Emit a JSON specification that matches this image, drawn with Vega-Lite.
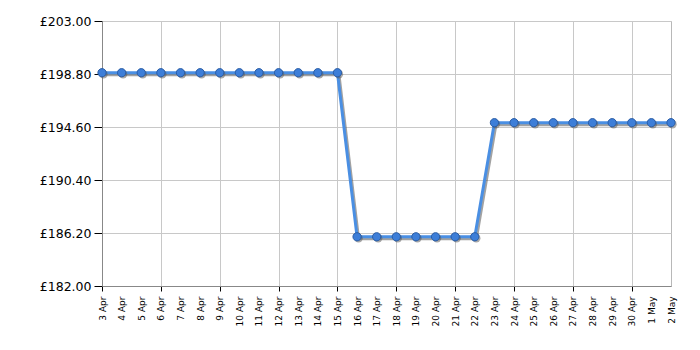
{
  "$schema": "https://vega.github.io/schema/vega-lite/v6.json",
  "width": 569,
  "height": 265,
  "autosize": {"type": "none"},
  "padding": {"left": 102, "top": 21, "right": 29, "bottom": 64},
  "background": "white",
  "config": {
    "view": {"stroke": "#b8b8b8", "strokeWidth": 1},
    "font": "Verdana, DejaVu Sans"
  },
  "data": {
    "values": [
      {"date": "2024-04-03", "price": 198.9},
      {"date": "2024-04-04", "price": 198.9},
      {"date": "2024-04-05", "price": 198.9},
      {"date": "2024-04-06", "price": 198.9},
      {"date": "2024-04-07", "price": 198.9},
      {"date": "2024-04-08", "price": 198.9},
      {"date": "2024-04-09", "price": 198.9},
      {"date": "2024-04-10", "price": 198.9},
      {"date": "2024-04-11", "price": 198.9},
      {"date": "2024-04-12", "price": 198.9},
      {"date": "2024-04-13", "price": 198.9},
      {"date": "2024-04-14", "price": 198.9},
      {"date": "2024-04-15", "price": 198.9},
      {"date": "2024-04-16", "price": 185.9},
      {"date": "2024-04-17", "price": 185.9},
      {"date": "2024-04-18", "price": 185.9},
      {"date": "2024-04-19", "price": 185.9},
      {"date": "2024-04-20", "price": 185.9},
      {"date": "2024-04-21", "price": 185.9},
      {"date": "2024-04-22", "price": 185.9},
      {"date": "2024-04-23", "price": 194.94},
      {"date": "2024-04-24", "price": 194.94},
      {"date": "2024-04-25", "price": 194.94},
      {"date": "2024-04-26", "price": 194.94},
      {"date": "2024-04-27", "price": 194.94},
      {"date": "2024-04-28", "price": 194.94},
      {"date": "2024-04-29", "price": 194.94},
      {"date": "2024-04-30", "price": 194.94},
      {"date": "2024-05-01", "price": 194.94},
      {"date": "2024-05-02", "price": 194.94}
    ]
  },
  "encoding": {
    "x": {
      "field": "date",
      "type": "temporal",
      "scale": {"type": "utc", "domain": [{"year": 2024, "month": 4, "date": 3, "utc": true}, {"year": 2024, "month": 5, "date": 2, "utc": true}], "nice": false},
      "axis": {
        "title": null,
        "format": "%-d %b",
        "labelAngle": 270,
        "labelAlign": "right",
        "labelBaseline": "middle",
        "labelFontSize": 9,
        "labelColor": "#000",
        "labelPadding": 5,
        "labelOverlap": false,
        "labelBound": false,
        "labelFlush": false,
        "values": [
          {"year": 2024, "month": 4, "date": 3, "utc": true},
          {"year": 2024, "month": 4, "date": 4, "utc": true},
          {"year": 2024, "month": 4, "date": 5, "utc": true},
          {"year": 2024, "month": 4, "date": 6, "utc": true},
          {"year": 2024, "month": 4, "date": 7, "utc": true},
          {"year": 2024, "month": 4, "date": 8, "utc": true},
          {"year": 2024, "month": 4, "date": 9, "utc": true},
          {"year": 2024, "month": 4, "date": 10, "utc": true},
          {"year": 2024, "month": 4, "date": 11, "utc": true},
          {"year": 2024, "month": 4, "date": 12, "utc": true},
          {"year": 2024, "month": 4, "date": 13, "utc": true},
          {"year": 2024, "month": 4, "date": 14, "utc": true},
          {"year": 2024, "month": 4, "date": 15, "utc": true},
          {"year": 2024, "month": 4, "date": 16, "utc": true},
          {"year": 2024, "month": 4, "date": 17, "utc": true},
          {"year": 2024, "month": 4, "date": 18, "utc": true},
          {"year": 2024, "month": 4, "date": 19, "utc": true},
          {"year": 2024, "month": 4, "date": 20, "utc": true},
          {"year": 2024, "month": 4, "date": 21, "utc": true},
          {"year": 2024, "month": 4, "date": 22, "utc": true},
          {"year": 2024, "month": 4, "date": 23, "utc": true},
          {"year": 2024, "month": 4, "date": 24, "utc": true},
          {"year": 2024, "month": 4, "date": 25, "utc": true},
          {"year": 2024, "month": 4, "date": 26, "utc": true},
          {"year": 2024, "month": 4, "date": 27, "utc": true},
          {"year": 2024, "month": 4, "date": 28, "utc": true},
          {"year": 2024, "month": 4, "date": 29, "utc": true},
          {"year": 2024, "month": 4, "date": 30, "utc": true},
          {"year": 2024, "month": 5, "date": 1, "utc": true},
          {"year": 2024, "month": 5, "date": 2, "utc": true}
        ],
        "grid": true,
        "gridColor": "#c8c8c8",
        "gridOpacity": {"condition": {"test": "round((datum.value - utc(2024,3,3)) / 86400000) % 3 == 0", "value": 1}, "value": 0},
        "tickOpacity": {"condition": {"test": "round((datum.value - utc(2024,3,3)) / 86400000) % 3 == 0", "value": 1}, "value": 0},
        "tickColor": "#000",
        "tickSize": 5,
        "domainColor": "#888"
      }
    },
    "y": {
      "field": "price",
      "type": "quantitative",
      "scale": {"domain": [182, 203], "nice": false, "zero": false},
      "axis": {
        "title": null,
        "values": [182, 186.2, 190.4, 194.6, 198.8, 203],
        "labelExpr": "'£' + format(datum.value, '.2f')",
        "labelFontSize": 12.5,
        "labelColor": "#000",
        "labelPadding": 3,
        "tickColor": "#000",
        "tickSize": 8,
        "domainColor": "#888",
        "gridColor": "#c8c8c8"
      }
    }
  },
  "layer": [
    {"mark": {"type": "line", "color": "#555", "opacity": 0.55, "strokeWidth": 3, "xOffset": 1.5, "yOffset": 2}},
    {"mark": {"type": "line", "color": "#4a8fe3", "strokeWidth": 3}},
    {"mark": {"type": "point", "filled": true, "shape": "circle", "size": 70, "color": "#555", "opacity": 0.5, "xOffset": 1.5, "yOffset": 1.5}},
    {"mark": {"type": "point", "filled": true, "shape": "circle", "size": 68, "fill": "#3d7ed8", "stroke": "#2a5ca4", "strokeWidth": 1, "opacity": 1}}
  ]
}
